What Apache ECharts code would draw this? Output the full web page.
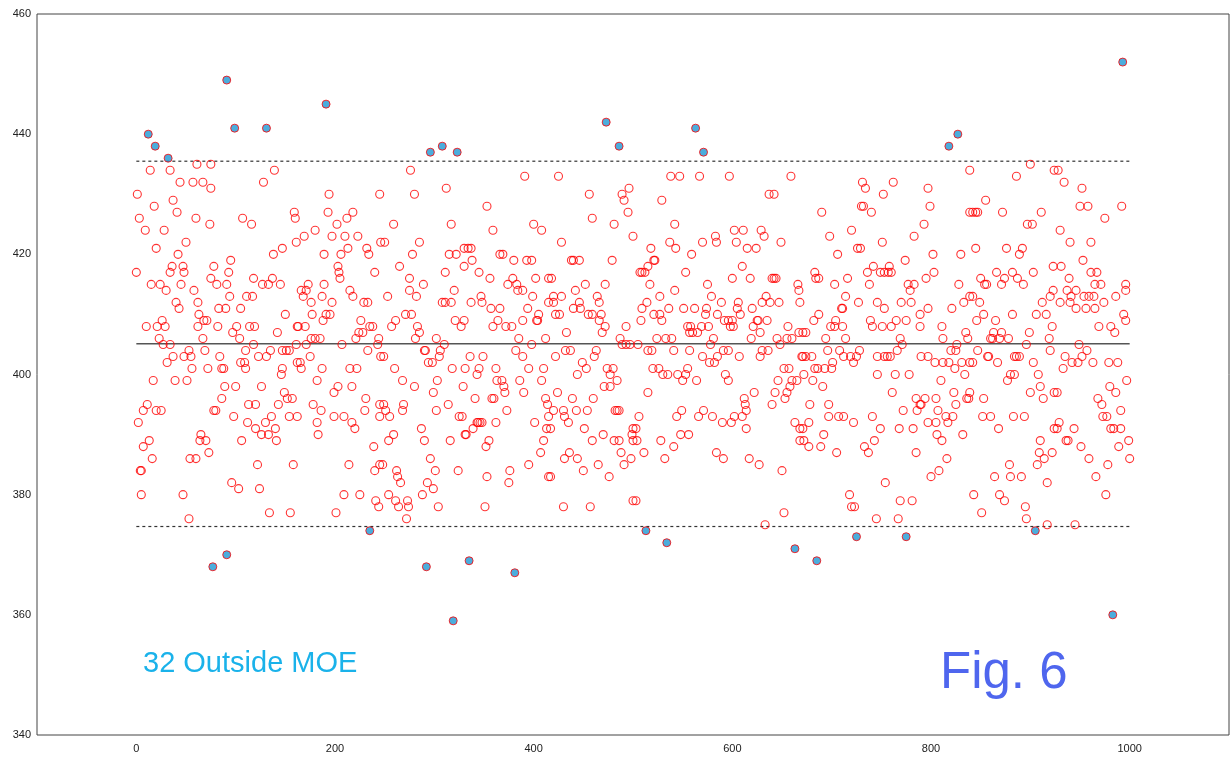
<!DOCTYPE html>
<html>
<head>
<meta charset="utf-8">
<script src="https://cdn.jsdelivr.net/npm/echarts@6/dist/echarts.min.js"></script>
<style>
  html, body { margin: 0; padding: 0; background: #fff; }
  #chart { width: 1231px; height: 758px; }
</style>
</head>
<body>
<div id="chart"></div>
<script>
// 测量值 [序号, 数值]，按横轴分段读图
var part1 = [[12,440],[19,438],[32,436],[14,434],[34,434],[61,435],[75,435],[44,432],[57,432],[67,432],[75,431],
  [1,430],[37,429],[18,428],[41,427],[3,426],[60,426],[74,425],[9,424],[28,424],[50,422],[20,421],[42,420],
  [36,418],[47,418],[78,418],[0,417],[34,417],[48,417],[75,416],[15,415],[24,415],[45,415],[30,414],[58,414],
  [40,412],[62,412],[43,411],[26,409],[63,410],[68,409],[71,409],[10,408],[21,408],[29,408],[62,408],[23,406],[67,406],[27,405],[34,405],
  [53,404],[69,404],[37,403],[48,403],[55,403],[31,402],[56,401],[72,401],[17,399],[39,399],[51,399],
  [11,395],[7,394],[20,394],[25,394],[78,394],[2,392],[65,390],[13,389],[64,389],[70,389],[7,388],[73,387],
  [16,386],[54,386],[60,386],[5,384],[4,384],[5,380],[47,380],[53,376],[77,368]];
var part2 = [[91,449],[99,441],[131,441],[91,370],[139,434],[128,432],[159,427],[160,426],[107,426],[116,425],[161,422],[147,421],[138,420],[95,419],
  [93,417],[118,416],[137,416],[81,415],[91,415],[127,415],[133,415],[145,415],[94,413],[111,413],[117,413],[83,411],[90,411],[105,411],[150,410],
  [82,408],[101,408],[114,408],[119,408],[162,408],[97,407],[142,407],[104,406],[118,405],[110,404],[135,404],[147,404],[151,404],[154,404],[161,405],
  [84,403],[123,403],[131,403],[105,402],[109,402],[162,402],[110,401],[86,401],[88,401],[147,401],[146,400],
  [89,398],[100,398],[126,398],[149,397],[86,396],[152,396],[157,396],[80,394],[113,395],[120,395],[143,395],[98,393],[154,393],[162,393],[136,393],
  [112,392],[130,392],[120,391],[140,391],[126,390],[133,390],[141,389],[106,389],[122,385],[158,385],[96,382],[103,381],[124,381],[134,377],[155,377]];
var part3 = [[191,445],[235,374],[194,430],[245,430],[193,427],[218,427],[212,426],[202,425],[180,424],
  [169,423],[197,423],[210,423],[223,423],[232,421],[213,421],[234,420],[189,420],[206,420],[246,422],
  [203,418],[204,417],[205,416],[240,417],[173,415],[189,415],[166,414],[171,414],[215,414],
  [168,413],[187,413],[218,413],[176,412],[197,412],[229,412],[233,412],[177,410],[191,410],[195,410],[188,409],[226,409],
  [170,408],[163,408],[235,408],[238,408],[224,407],[228,407],[176,406],[180,406],[185,406],[221,406],[244,406],
  [171,405],[207,405],[243,405],[233,404],[175,403],[246,403],[165,402],[166,401],[187,401],[215,401],[222,401],
  [182,399],[203,398],[199,397],[217,398],[231,396],[178,395],[186,394],[230,394],[245,395],[199,393],[209,393],[245,393],
  [217,392],[220,391],[182,392],[183,390],[239,388],[214,385],[240,384],[245,385],[209,380],[225,380],[241,379],[244,378],[201,377]];
var part4 = [[296,437],[308,438],[323,437],[292,368],[319,359],[276,434],[280,430],[312,431],[259,425],[317,425],[250,422],[285,422],[330,421],
  [278,420],[315,420],[322,420],[265,418],[330,418],[311,417],[275,416],[289,415],[275,414],[282,413],[253,413],[320,414],[308,412],[311,412],[317,412],
  [271,410],[277,410],[261,409],[321,409],[257,408],[283,408],[330,409],[327,408],[285,407],[281,406],[302,406],[310,405],[290,404],[291,404],[306,404],[305,403],
  [294,402],[298,402],[249,403],[260,401],[318,401],[331,401],[303,399],[268,399],[280,398],[299,397],[329,398],
  [249,395],[251,394],[269,395],[268,394],[314,395],[255,393],[302,394],[325,393],[328,393],[259,390],[254,389],[287,391],[290,389],[316,389],[331,390],
  [248,385],[296,386],[262,384],[263,383],[266,382],[301,384],[293,382],[299,381],[324,384],[288,380],[254,380],[261,379],[264,378],[273,379],[274,378],[304,378],[272,376]];
var part5 = [[335,369],[381,367],[391,433],[353,428],[359,424],[400,425],[408,424],[337,421],[334,421],[366,420],[369,420],
  [338,419],[380,419],[393,419],[398,419],[345,417],[356,416],[379,416],[402,416],[415,416],[374,415],[383,415],[384,414],[389,414],[347,413],[399,413],[348,412],[337,412],
  [357,411],[366,411],[394,411],[405,410],[415,412],[364,409],[389,409],[403,409],[404,409],[359,408],[372,408],[378,408],[385,406],[412,406],[398,405],[382,404],
  [336,403],[349,403],[389,403],[345,401],[343,400],[362,401],[395,401],[410,401],[363,399],[368,399],[370,398],[371,397],[386,399],[408,399],[390,397],
  [341,396],[358,396],[360,396],[412,396],[414,395],[373,394],[415,393],[343,392],[344,392],[346,392],[348,392],[339,391],[332,390],[362,392],[401,392],[413,391],
  [355,389],[352,388],[410,389],[407,387],[395,385],[376,384],[375,382],[353,383],[415,383],[351,378]];
var part6 = [[473,442],[486,438],[425,433],[456,430],[489,430],[491,429],[496,431],[495,427],[459,426],[481,425],[428,422],[500,423],
  [438,419],[440,419],[446,419],[479,419],[418,416],[452,415],[472,415],[442,414],[420,413],[428,413],[464,413],[420,412],[446,412],[466,412],[440,411],[447,411],
  [422,410],[426,410],[455,410],[459,410],[468,410],[466,409],[472,408],[493,408],[433,407],[469,407],[487,406],[489,405],[493,405],[497,405],
  [422,403],[432,404],[437,404],[463,404],[461,403],[449,402],[453,401],[444,400],[474,401],[480,401],[477,400],[484,399],[471,398],[477,398],[424,397],
  [439,396],[460,396],[420,394],[430,394],[443,394],[454,394],[482,394],[484,394],[486,394],[431,393],[435,392],[417,391],[451,391],[500,391],[470,390],[499,390],
  [459,389],[481,389],[486,389],[500,389],[488,387],[436,387],[431,386],[444,386],[498,386],[491,385],[465,385],[450,384],[476,383],[417,383],[430,378],[457,378],[500,379]];
var part7 = [[563,441],[571,437],[513,374],[534,372],[538,433],[547,433],[567,433],[529,429],[542,425],[518,421],[537,422],[543,421],
  [583,423],[584,422],[570,422],[559,420],[522,419],[521,419],[515,418],[507,417],[509,417],[512,417],[553,417],[517,415],[575,415],[542,414],[527,413],[579,413],
  [514,412],[509,411],[536,411],[551,411],[562,411],[574,411],[521,410],[527,410],[573,410],[585,410],[508,409],[529,409],[555,408],[557,407],[560,407],[558,408],[565,407],[569,408],[576,408],
  [524,406],[533,406],[539,406],[581,406],[505,405],[578,405],[515,404],[519,404],[541,404],[557,404],[570,403],[577,402],[582,402],[585,403],[520,401],[526,401],[530,400],[535,400],[545,400],
  [550,399],[553,400],[555,401],[564,399],[515,397],[549,394],[544,393],[566,393],[571,394],[580,393],[506,393],
  [503,391],[504,389],[548,390],[556,390],[528,389],[541,388],[511,387],[532,386],[584,387],[503,379]];
var part8 = [[663,371],[597,433],[659,433],[637,430],[642,430],[602,424],[611,424],[629,424],[604,422],[632,423],[649,422],
  [615,421],[624,421],[610,418],[600,416],[618,416],[640,416],[642,416],[644,416],[666,415],[667,414],
  [589,412],[606,412],[634,413],[630,412],[638,412],[647,412],[668,412],[605,411],[608,410],[620,411],
  [592,409],[596,409],[600,409],[598,408],[601,408],[625,409],[626,409],[635,409],[621,408],[628,407],
  [656,408],[667,407],[619,406],[645,406],[655,406],[660,406],[648,405],[591,404],[596,404],[630,404],[636,404],
  [607,403],[628,403],[652,401],[657,401],[670,403],[593,400],[596,399],[646,399],[660,399],[665,399],
  [658,398],[655,397],[653,396],[622,397],[643,397],[612,396],[613,395],[614,394],[610,393],[640,395],[602,393],
  [590,392],[599,392],[614,391],[663,392],[668,391],[668,389],[591,386],[617,386],[627,385],[650,384],[652,377],[633,375]];
var part9 = [[685,369],[725,373],[731,432],[734,431],[752,430],[690,427],[730,428],[732,428],[740,427],[720,424],[698,423],[751,422],
  [726,421],[729,421],[706,420],[683,417],[684,416],[687,416],[736,417],[742,418],[749,417],[753,417],
  [716,416],[703,415],[738,415],[714,413],[727,412],[746,412],[753,411],[710,411],[711,411],
  [687,410],[682,409],[704,409],[739,409],[699,408],[703,408],[711,408],[741,408],[751,408],
  [671,407],[674,407],[694,406],[714,406],[696,404],[708,404],[728,404],[712,403],[719,403],[725,403],
  [722,402],[671,403],[674,403],[680,403],[746,403],[753,403],[701,402],[683,401],[686,401],[693,401],[700,401],
  [672,400],[681,399],[746,400],[691,398],[678,395],[697,395],[697,393],[707,393],[712,393],[741,393],
  [677,392],[722,392],[671,391],[749,391],[692,390],[743,389],[672,389],[677,388],[689,388],[733,388],
  [737,387],[705,387],[754,382],[718,380],[720,378],[723,378],[745,376]];
var part10 = [[827,440],[818,438],[775,373],[839,434],[762,432],[797,431],[799,428],[839,427],[793,425],[783,423],[774,419],[802,420],[830,420],
  [758,418],[757,417],[760,417],[803,417],[795,416],[777,415],[783,415],[779,414],[828,415],[839,413],
  [770,412],[780,412],[833,412],[797,411],[821,411],[789,410],[765,409],[775,409],[760,408],[789,408],[811,408],
  [835,407],[837,406],[769,406],[812,406],[771,405],[826,405],[766,404],[820,404],[825,404],
  [756,403],[759,403],[790,403],[797,403],[804,402],[812,402],[818,402],[831,402],[839,402],[824,401],
  [764,400],[778,400],[834,400],[810,399],[761,397],[823,397],[839,397],[785,396],[794,396],
  [789,395],[790,395],[805,396],[836,396],[838,396],[825,395],[772,394],[786,394],[807,394],
  [815,393],[822,393],[797,392],[805,392],[817,392],[768,391],[782,391],[806,390],[832,390],[811,389],
  [785,387],[816,386],[808,384],[800,383],[769,379],[781,379],[767,376]];
var part11 = [[905,374],[900,435],[924,434],[886,433],[855,429],[842,427],[845,427],[847,427],[872,427],[911,427],[897,425],[902,425],
  [845,421],[876,421],[892,421],[889,420],[923,418],[866,417],[903,417],[882,417],[850,416],[874,416],
  [854,415],[856,415],[871,415],[887,416],[893,415],[842,413],[849,412],[912,412],[920,413],[923,414],
  [853,410],[882,410],[906,410],[916,410],[846,409],[865,409],[922,408],[863,407],[871,407],[899,407],
  [860,406],[862,406],[869,406],[878,406],[919,406],[896,405],[847,404],[920,404],
  [857,403],[858,403],[884,403],[886,403],[889,403],[842,402],[867,402],[903,402],
  [880,400],[884,400],[877,399],[908,400],[910,398],[900,397],[924,397],[913,396],[853,396],
  [852,393],[860,393],[883,393],[894,393],[868,391],[924,391],[910,389],[909,387],[914,386],[907,385],[922,387],
  [879,385],[864,383],[880,383],[891,383],[917,382],[843,380],[869,380],[874,379],[895,378],[896,376],[851,377],[917,375]];
var part12 = [[993,452],[983,360],[928,434],[934,432],[952,431],[950,428],[958,428],[992,428],[975,426],[930,424],[940,422],[961,422],
  [953,419],[931,418],[961,417],[967,417],[939,416],[965,415],[971,415],[996,415],[937,414],[946,414],[996,414],
  [941,413],[954,413],[959,413],[964,413],[986,413],[930,412],[940,412],[974,412],[946,411],[956,411],[965,411],
  [994,410],[996,409],[969,408],[981,408],[985,407],[949,405],[957,404],[935,403],[952,403],
  [942,402],[948,402],[963,402],[979,402],[988,402],[933,401],[997,399],[927,397],[980,398],[986,397],
  [968,396],[972,395],[991,394],[973,393],[977,393],[929,392],[927,391],[944,391],[981,391],[984,391],[991,391],
  [936,389],[938,389],[999,389],[951,388],[989,388],[959,386],[1000,386],[978,385],[966,383],[976,380],[945,375]];

// 均值线与误差范围(MOE)
var meanValue = 405.1;
var moe = 30.4;
var lineRange = [0, 1000];
var xTicks = [0, 200, 400, 600, 800, 1000];

var allPoints = [].concat(part1, part2, part3, part4, part5, part6, part7, part8, part9, part10, part11, part12);
var upper = meanValue + moe, lower = meanValue - moe;
var inside = allPoints.filter(function (p) { return p[1] >= lower && p[1] <= upper; });
var outside = allPoints.filter(function (p) { return p[1] < lower || p[1] > upper; });

var myChart = echarts.init(document.getElementById('chart'));
var option = {
    animation: false,
    grid: { left: 37, right: 2, top: 14, bottom: 23, show: true, borderColor: '#444', borderWidth: 1 },
    xAxis: {
        type: 'value', min: -100, max: 1100,
        axisLine: { show: false, onZero: false },
        axisTick: { show: false },
        axisLabel: {
            customValues: xTicks, color: '#222', fontSize: 11, fontFamily: 'Liberation Sans', margin: 8,
            formatter: function (v) { return String(v); }
        },
        splitLine: { show: false }
    },
    yAxis: {
        type: 'value', min: 340, max: 460, interval: 20,
        axisLine: { show: false, onZero: false },
        axisTick: { show: false },
        axisLabel: { color: '#222', fontSize: 11, fontFamily: 'Liberation Sans', margin: 6 },
        splitLine: { show: false }
    },
    series: [
        {
            type: 'line', data: [[lineRange[0], upper], [lineRange[1], upper]], symbol: 'none',
            lineStyle: { color: '#333', width: 1.2, type: [3, 3] }, z: 1
        },
        {
            type: 'line', data: [[lineRange[0], lower], [lineRange[1], lower]], symbol: 'none',
            lineStyle: { color: '#333', width: 1.2, type: [3, 3] }, z: 1
        },
        {
            type: 'line', data: [[lineRange[0], meanValue], [lineRange[1], meanValue]], symbol: 'none',
            lineStyle: { color: '#555', width: 1.5 }, z: 1
        },
        {
            type: 'scatter', data: inside, symbol: 'circle', symbolSize: 8,
            itemStyle: { color: 'rgba(0,0,0,0)', borderColor: '#ff0000', borderWidth: 1.1 }, z: 3
        },
        {
            type: 'scatter', data: outside, symbol: 'circle', symbolSize: 8,
            itemStyle: { color: '#1e98d4', borderColor: '#ff0000', borderWidth: 1 }, z: 4
        }
    ],
    graphic: [
        { type: 'text', left: 143, top: 649, style: { text: outside.length + ' Outside MOE', fill: '#1ab2ea', fontSize: 29, fontFamily: 'Liberation Sans' } },
        { type: 'text', left: 940, top: 648, style: { text: 'Fig. 6', fill: '#4f66ee', fontSize: 51, fontFamily: 'Liberation Sans' } }
    ]
};
myChart.setOption(option);
</script>
</body>
</html>
